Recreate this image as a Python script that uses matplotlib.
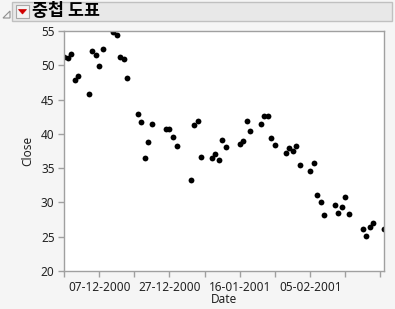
import matplotlib
matplotlib.use("Agg")
import matplotlib.pyplot as plt
from matplotlib.patches import Rectangle, Polygon
import pandas as pd

plt.rcParams['font.family'] = ['Noto Sans', 'Noto Sans CJK KR', 'DejaVu Sans']

# 거래일 (주말/휴장일 제외)
dates = [
    "2000-11-27", "2000-11-28", "2000-11-29", "2000-11-30", "2000-12-01",
    "2000-12-04", "2000-12-05", "2000-12-06", "2000-12-07", "2000-12-08",
    "2000-12-11", "2000-12-12", "2000-12-13", "2000-12-14", "2000-12-15",
    "2000-12-18", "2000-12-19", "2000-12-20", "2000-12-21", "2000-12-22",
    "2000-12-26", "2000-12-27", "2000-12-28", "2000-12-29",
    "2001-01-02", "2001-01-03", "2001-01-04", "2001-01-05",
    "2001-01-08", "2001-01-09", "2001-01-10", "2001-01-11", "2001-01-12",
    "2001-01-16", "2001-01-17", "2001-01-18", "2001-01-19",
    "2001-01-22", "2001-01-23", "2001-01-24", "2001-01-25", "2001-01-26",
    "2001-01-29", "2001-01-30", "2001-01-31", "2001-02-01", "2001-02-02",
    "2001-02-05", "2001-02-06", "2001-02-07", "2001-02-08", "2001-02-09",
    "2001-02-12", "2001-02-13", "2001-02-14", "2001-02-15", "2001-02-16",
    "2001-02-20", "2001-02-21", "2001-02-22", "2001-02-23",
    "2001-02-26",
]
close = [
    51.25, 51.02, 51.69, 47.9, 48.48,
    45.81, 52.13, 51.46, 49.94, 52.38,
    54.86, 54.37, 51.16, 50.92, 48.15,
    42.94, 41.73, 36.48, 38.86, 41.48,
    40.75, 40.75, 39.59, 38.27,
    33.32, 41.34, 41.92, 36.63,
    36.52, 37.1, 36.23, 39.1, 38.08,
    38.52, 39.0, 41.88, 40.37,
    41.44, 42.65, 42.6, 39.35, 38.38,
    37.25, 37.98, 37.45, 38.27, 35.5,
    34.54, 35.75, 31.08, 30.02, 28.21,
    29.58, 28.5, 29.38, 30.84, 28.27,
    26.08, 25.1, 26.46, 27.04,
    26.08,
]

x_ticks = ["2000-11-27", "2000-12-07", "2000-12-17", "2000-12-27", "2001-01-06",
           "2001-01-16", "2001-01-26", "2001-02-05", "2001-02-15", "2001-02-25"]
x_tick_labels = ["", "07-12-2000", "", "27-12-2000", "",
                 "16-01-2001", "", "05-02-2001", "", ""]
y_ticks = [20, 25, 30, 35, 40, 45, 50, 55]

bg = "#f5f5f5"
edge = "#a0a0a0"
txt = "#222222"

fig = plt.figure(figsize=(3.95, 3.09), dpi=100, facecolor=bg)
ax = fig.add_axes([64/395, 1 - 271/309, 320/395, 240/309])
ax.set_facecolor("white")

ax.plot(pd.to_datetime(dates), close, 'o', color='black', markersize=4.2,
        markeredgewidth=0, clip_on=True)

ax.set_xlim(pd.Timestamp("2000-11-27"), pd.Timestamp("2001-02-26"))
ax.set_ylim(20, 55)
ax.set_yticks(y_ticks)
ax.set_xticks(pd.to_datetime(x_ticks))
ax.set_xticklabels(x_tick_labels)

for s in ax.spines.values():
    s.set_color(edge)
    s.set_linewidth(1)
ax.tick_params(axis='both', colors=edge, labelcolor=txt, labelsize=8.5,
               length=4.3, width=1)
ax.tick_params(axis='y', pad=2.5)
ax.tick_params(axis='x', pad=3)

ax.set_xlabel("Date", fontsize=8.5, color=txt)
ax.set_ylabel("Close", fontsize=8.5, color=txt)
ax.xaxis.set_label_coords(0.5, -0.12)
ax.xaxis.label.set_va('center')
ax.yaxis.set_label_coords(-0.1125, 0.5)
ax.yaxis.label.set_va('center')

# 제목 막대
W, H = 395, 309
fig.patches.append(Rectangle((12/W, 1 - 21/H), 380/W, 19/H, transform=fig.transFigure,
                             facecolor="#e8e8e8", edgecolor="#c0c0c0", linewidth=1))
fig.patches.append(Rectangle((16/W, 1 - 18/H), 13/W, 13/H, transform=fig.transFigure,
                             facecolor="#f4f4f4", edgecolor="#a8a8a8", linewidth=0.8))
fig.patches.append(Polygon([(18.5/W, 1 - 9.5/H), (26.5/W, 1 - 9.5/H), (22.5/W, 1 - 14/H)],
                           closed=True, transform=fig.transFigure,
                           facecolor="#d00000", edgecolor="#d00000", linewidth=0.5))
fig.patches.append(Polygon([(3/W, 1 - 18/H), (10/W, 1 - 18/H), (10/W, 1 - 11/H)],
                           closed=True, transform=fig.transFigure,
                           facecolor="none", edgecolor="#909090", linewidth=0.8))
fig.text(32/W, 1 - 11.5/H, "중첩 도표", fontsize=12.5, fontweight='bold',
         family=['Noto Sans CJK KR', 'DejaVu Sans'], color="black", va='center', ha='left')

fig.savefig("out.png", dpi=100, facecolor=bg)
